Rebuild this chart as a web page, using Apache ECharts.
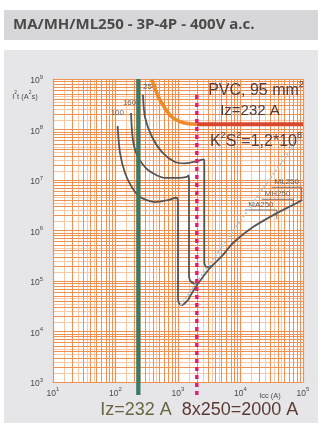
<!DOCTYPE html>
<html><head><meta charset="utf-8">
<script src="https://cdn.jsdelivr.net/npm/echarts@6/dist/echarts.min.js"></script>
<style>html,body{margin:0;padding:0;background:#fff}#c{width:324px;height:431px}</style>
</head><body><div id="c"></div>
<script>
// ---- data ----
const titleText = 'MA/MH/ML250 - 3P-4P - 400V a.c.';
const xRange = [10, 100000];
const yRange = [1000, 1000000000];
const minorMults = [2,3,4,5,6,7,8,9];
const faintMults = [1.5,2.5,3.5,4.5];
const curve100 = [[108,1.17e8],[118,3.43e7],[142,1.38e7],[182,7.3e6],[247,4.6e6],[430,3.66e6],[690,4.0e6],[940,4.45e6],[985,4.2e6],[1000,3.2e6],[1000,4.6e4],[1040,3.6e4],[1146,3.35e4],[1445,4.2e4]];
const curve160 = [[177,2.12e8],[190,6.2e7],[229,2.85e7],[331,1.58e7],[619,1.1e7],[1000,1.1e7],[1393,1.15e7],[1470,1.24e7],[1500,1.0e7],[1500,1.25e5],[1560,1.02e5],[1656,9.5e4],[2014,8.3e4]];
const curve250 = [[275,4.82e8],[296,1.77e8],[384,7.1e7],[555,3.58e7],[896,2.27e7],[1294,2.14e7],[2089,2.38e7],[2541,2.57e7],[2634,2.3e7],[2634,2.3e5],[2760,1.95e5],[2877,1.89e5],[3550,2.0e5]];
const letThrough = [[1445,4.2e4],[2014,8.3e4],[3251,1.81e5],[5058,3.13e5],[7586,5.65e5],[15850,1.17e6],[38400,2.22e6],[69200,3.2e6],[96400,4.02e6]];
const cableCurve = [[380,9.8e8],[484,4.47e8],[619,2.63e8],[792,1.79e8],[1076,1.43e8],[1462,1.3e8],[2000,1.27e8]];
const k2s2Line = [[2000,1.27e8],[100000,1.27e8]];
const izLine = [[232,1e9],[232,553]];
const icuLine = [[2000,4.8e8],[2000,553]];
const asymptote = [[1100,3.3e4],[144500,1.69e8]];
const mlMark = [[31600,7.17e6],[95300,7.17e6],[95300,4.0e6]];
const mhMark = [[21800,4.15e6],[70000,4.15e6],[70000,3.2e6]];
const maMark = [[11800,2.55e6],[38000,2.55e6],[38000,1.67e6]];
const markNames = ['ML250','MH250','MA250'];
const markAnchors = [[54900,7.17e6],[39000,4.15e6],[21200,2.55e6]];
const curveNames = ['100','160','250'];
const curveAnchors = [[107,2.12e8],[168,3.35e8],[353,6.95e8]];

// ---- chart ----
const chart = echarts.init(document.getElementById('c'), null, {renderer:'canvas'});
const F = 'Liberation Sans, Arial, sans-serif';
function pow10(v){ const e = Math.round(Math.log10(v)); return '{b|10}{s|' + e + '}'; }
const axisRich = {
  b:{fontSize:8.5, color:'#4a4a4a', fontFamily:F, lineHeight:13, verticalAlign:'bottom'},
  s:{fontSize:6, color:'#4a4a4a', fontFamily:F, height:9, verticalAlign:'top'}
};
function gridMarks(range, key, mults){
  const out = [];
  for (let d = range[0]; d < range[1]; d *= 10) for (const m of mults) { const o={}; o[key]=d*m; out.push(o); }
  return out;
}
const gridColor = '#ef9153';
const lineSeries = (name, data, color, width, z, extra) => Object.assign({
  type:'line', name, data, showSymbol:false, symbol:'none', silent:true, z,
  lineStyle:{color, width, cap:'butt', join:'round'}, animation:false
}, extra || {});

const option = {
  animation:false,
  backgroundColor:'#ffffff',
  grid:{left:53, right:21, top:79, bottom:49, show:true, backgroundColor:'#ffffff', borderWidth:0, containLabel:false, outerBoundsMode:'none'},
  xAxis:{type:'log', logBase:10, min:xRange[0], max:xRange[1], z:1,
    axisLine:{show:true, lineStyle:{color:gridColor, width:1}}, axisTick:{show:false},
    splitLine:{show:true, lineStyle:{color:gridColor, width:1.2}},
    axisLabel:{margin:3, formatter:pow10, rich:axisRich}},
  yAxis:{type:'log', logBase:10, min:yRange[0], max:yRange[1], z:1,
    axisLine:{show:true, lineStyle:{color:gridColor, width:1}}, axisTick:{show:false},
    splitLine:{show:true, lineStyle:{color:gridColor, width:1.2}},
    axisLabel:{margin:10, formatter:pow10, rich:axisRich}},
  series:[
    lineSeries('gridFaint', [], '#f7c4a2', 1, 0, {markLine:{z:0, silent:true, symbol:'none', label:{show:false}, animation:false,
      lineStyle:{color:'#f8c8a8', width:1, type:'solid'},
      data: gridMarks(xRange,'xAxis',faintMults).concat(gridMarks(yRange,'yAxis',faintMults))}}),
    lineSeries('grid', [], gridColor, 1, 1, {markLine:{z:1, silent:true, symbol:'none', label:{show:false}, animation:false,
      lineStyle:{color:gridColor, width:1, type:'solid'},
      data: gridMarks(xRange,'xAxis',minorMults).concat(gridMarks(yRange,'yAxis',minorMults))}}),
    lineSeries('c100', curve100, '#555555', 1.8, 4, {smooth:0.25}),
    lineSeries('c160', curve160, '#555555', 1.8, 4, {smooth:0.25}),
    lineSeries('c250', curve250, '#555555', 1.8, 4, {smooth:0.25}),
    lineSeries('let', letThrough, '#555555', 1.8, 4, {smooth:0.3}),
    lineSeries('asym', asymptote, '#b3cad2', 2, 5, {clip:false, lineStyle:{color:'#b3cad2', width:2, type:[2,2]}}),
    lineSeries('ml', mlMark, '#555555', 0.8, 4),
    lineSeries('mh', mhMark, '#555555', 0.8, 4),
    lineSeries('ma', maMark, '#555555', 0.8, 4),
    {type:'scatter', silent:true, z:4, symbolSize:0, animation:false,
      data: markNames.map((n,i)=>({name:n, value:markAnchors[i]})),
      label:{show:true, position:'top', distance:1, formatter:p=>p.name, fontSize:8, color:'#444444', fontFamily:F}},
    {type:'scatter', silent:true, z:4, symbolSize:0, animation:false,
      data: curveNames.map((n,i)=>({name:n, value:curveAnchors[i]})),
      label:{show:true, position:'inside', formatter:p=>p.name, fontSize:8, color:'#444444', fontFamily:F}},
    lineSeries('iz', izLine, '#3c7a68', 4.3, 6, {clip:false}),
    lineSeries('cable', cableCurve, '#ed8a2b', 3.6, 7, {smooth:0.3}),
    lineSeries('k2s2', k2s2Line, '#d9472c', 3.8, 7),
    lineSeries('icu', icuLine, '#e3197c', 3.4, 8, {clip:false, lineStyle:{color:'#e3197c', width:3.4, type:[4,4]}})
  ],
  graphic:[
    {type:'rect', z:-10, silent:true, shape:{x:4, y:10, width:314, height:30}, style:{fill:'#d7d7d9'}},
    {type:'rect', z:-10, silent:true, shape:{x:4, y:50, width:314, height:373}, style:{fill:'#e6e6e8'}},
    {type:'text', z:10, silent:true, style:{x:13, y:25, text:titleText, verticalAlign:'middle', fill:'#4a4a4a', font:'bold 15px "Open Sans", sans-serif'}},
    {type:'text', z:10, silent:true, style:{x:25, y:95, align:'center', verticalAlign:'middle', text:'{a|I}{s|2}{a|t (A}{s|2}{a|s)}',
      rich:{a:{fontSize:7.5, fill:'#4a4a4a', fontFamily:F, lineHeight:11, verticalAlign:'bottom'}, s:{fontSize:5, fill:'#4a4a4a', fontFamily:F, height:7, verticalAlign:'top'}}}},
    {type:'text', z:10, silent:true, style:{x:270, y:396, align:'center', verticalAlign:'middle', text:'Icc (A)', fill:'#4a4a4a', font:'7.5px '+F}},
    {type:'text', z:20, silent:true, style:{x:256, y:89, align:'center', verticalAlign:'middle', text:'{a|PVC, 95 mm}{s|2}',
      rich:{a:{fontSize:16, fill:'#5a3c3c', fontFamily:F, lineHeight:20, verticalAlign:'bottom'}, s:{fontSize:9, fill:'#5a3c3c', fontFamily:F, height:12, verticalAlign:'top'}}}},
    {type:'text', z:20, silent:true, style:{x:250, y:111, align:'center', verticalAlign:'middle', text:'Iz=232 A', fill:'#4c3c3c', font:'15px '+F}},
    {type:'text', z:20, silent:true, style:{x:256, y:140, align:'center', verticalAlign:'middle', text:'{a|K}{s|2}{a|S}{s|2}{a|=1,2*10}{s|8}',
      rich:{a:{fontSize:16, fill:'#5a3c3c', fontFamily:F, lineHeight:20, verticalAlign:'bottom'}, s:{fontSize:9, fill:'#5a3c3c', fontFamily:F, height:12, verticalAlign:'top'}}}},
    {type:'text', z:20, silent:true, style:{x:136, y:410, align:'center', verticalAlign:'middle', text:'Iz=232 A', fill:'#6a6540', font:'18px '+F}},
    {type:'text', z:20, silent:true, style:{x:240, y:410, align:'center', verticalAlign:'middle', text:'8x250=2000 A', fill:'#5c3a34', font:'18px '+F}}
  ]
};
chart.setOption(option);
</script></body></html>
